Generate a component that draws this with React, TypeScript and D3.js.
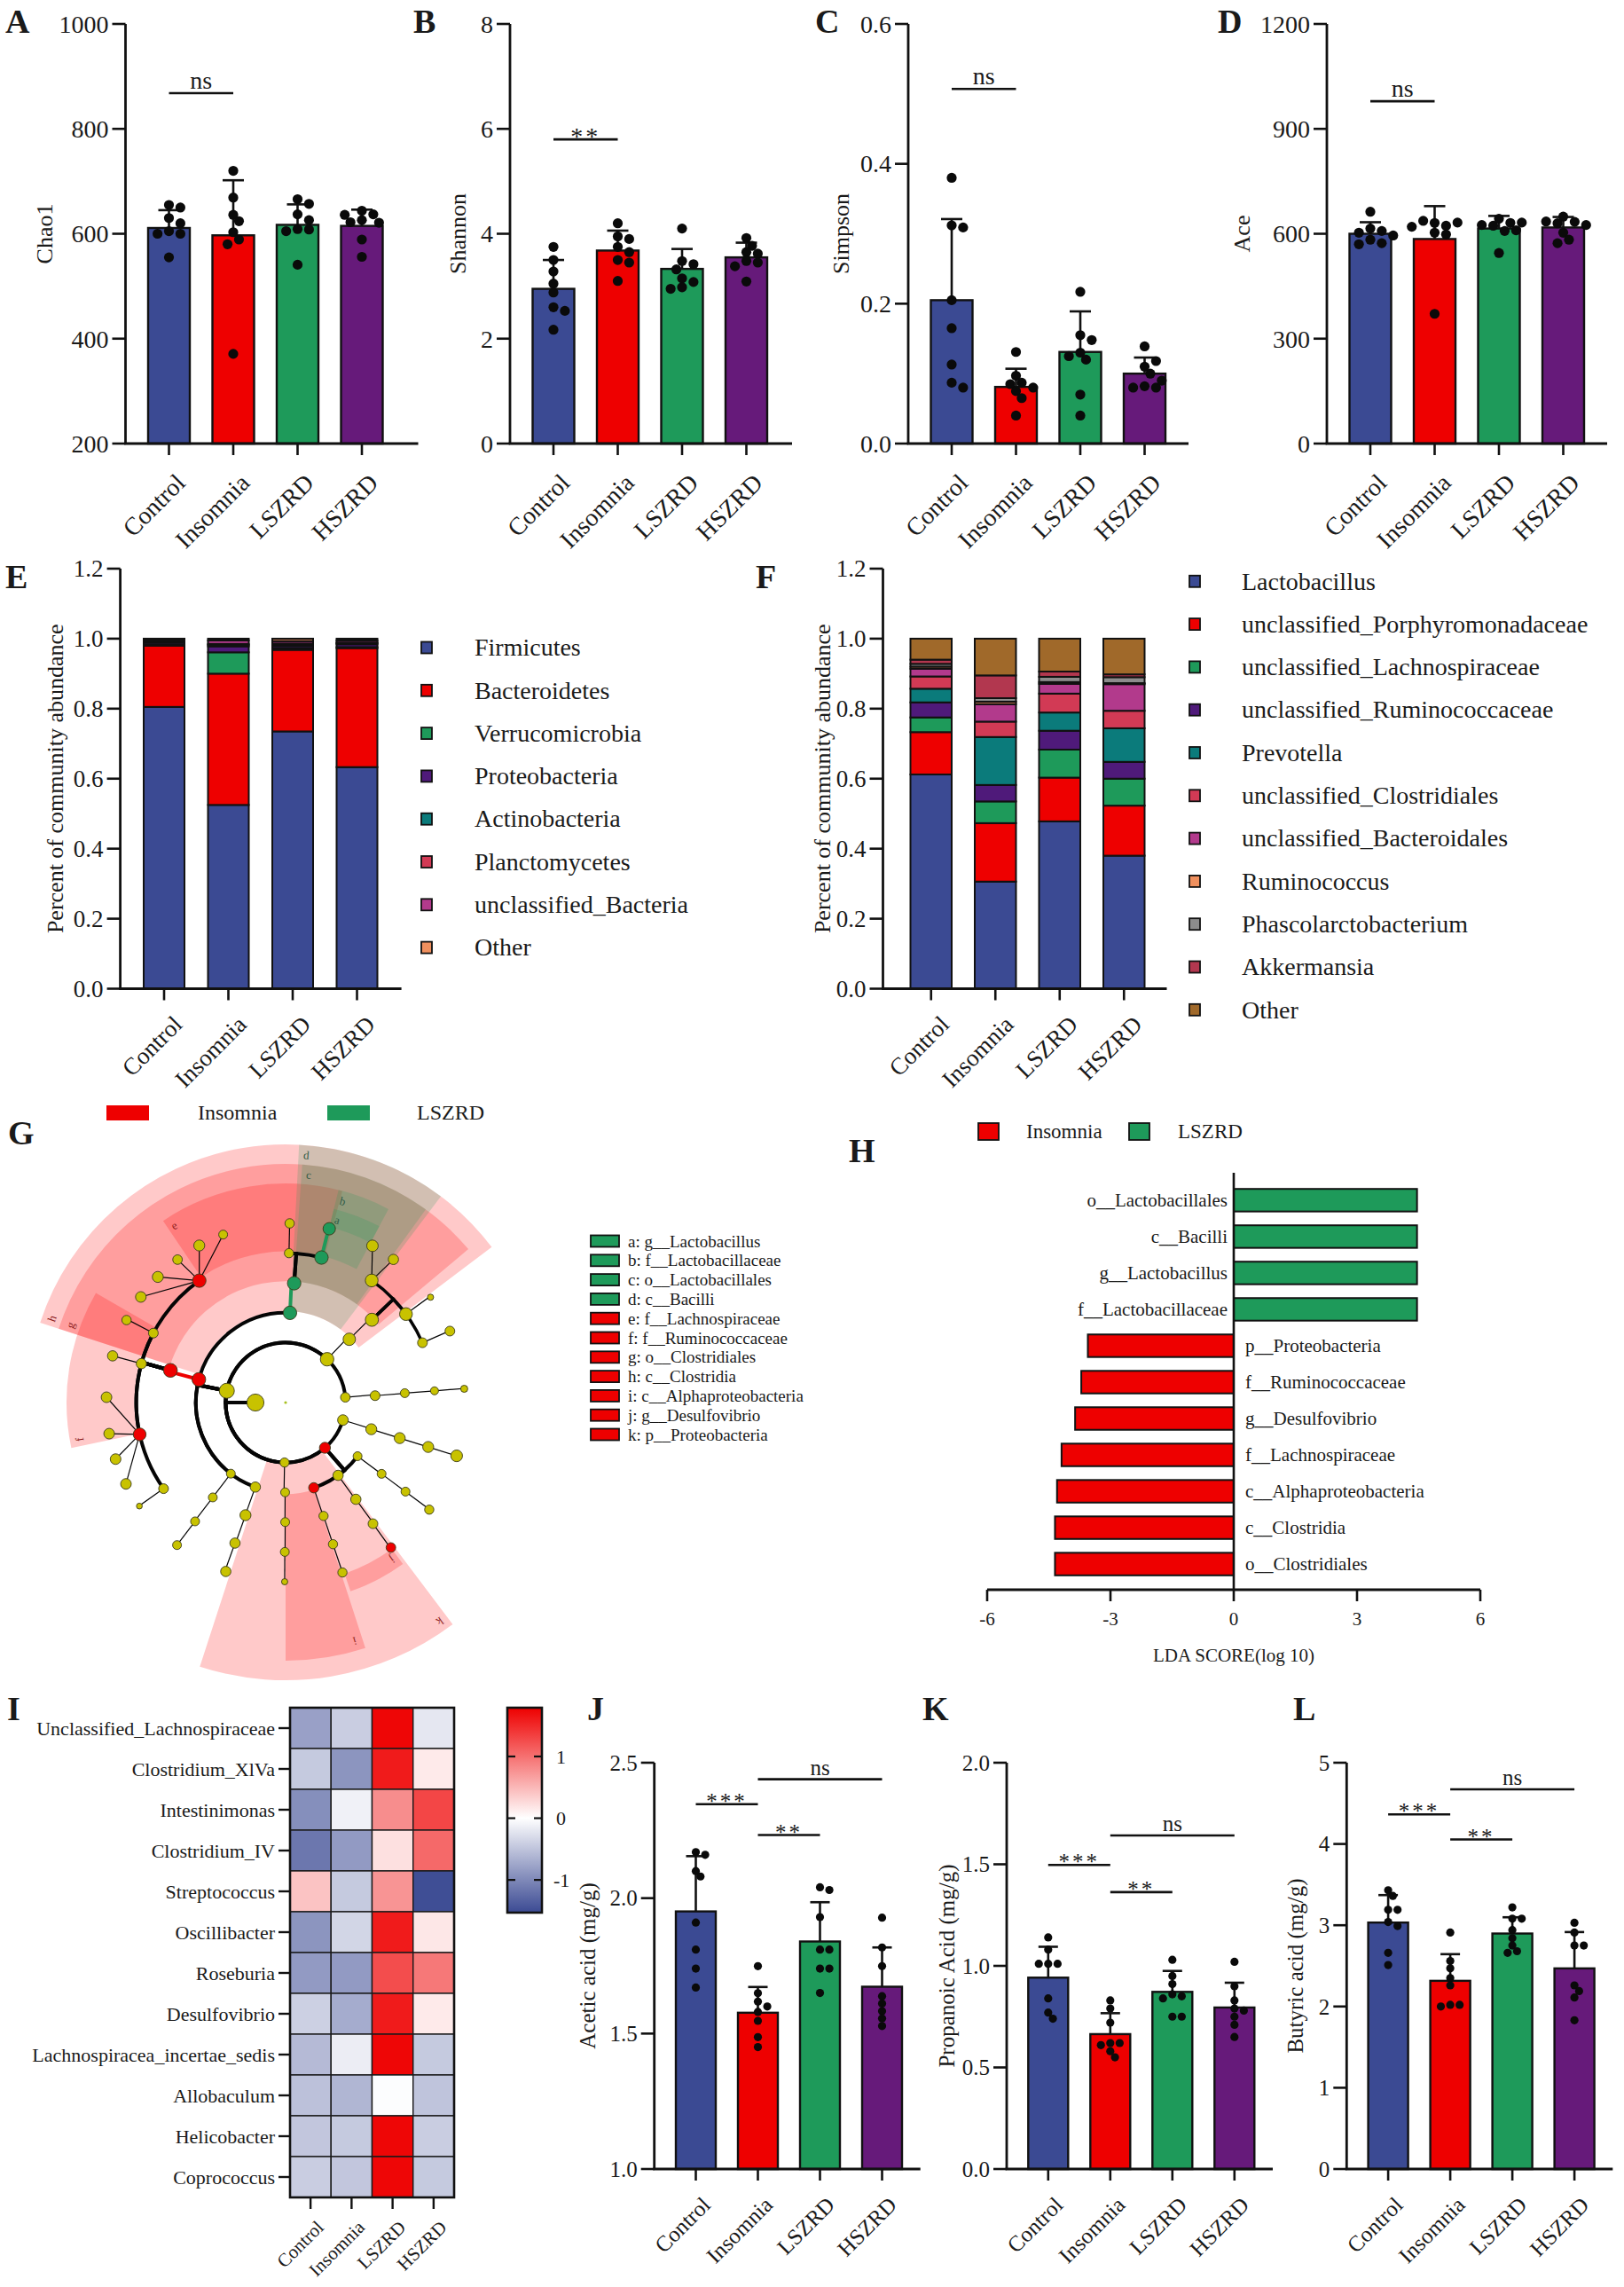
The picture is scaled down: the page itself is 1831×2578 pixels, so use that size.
import React from 'react';
import * as d3 from 'd3';

const W = 1831;
const H = 2578;
const SERIF = '"Liberation Serif", "Times New Roman", serif';

const GROUPS = ['Control', 'Insomnia', 'LSZRD', 'HSZRD'];
const GROUP_COLORS = ['#3b4a93', '#ee0000', '#1e9a5a', '#661a7a'];

// ---- A-D: alpha diversity ----
const chao1Mean = [611, 597, 617, 615];
const chao1Sd = [34, 105, 39, 31];
const chao1Pts = [
  [655, 650, 630, 620, 605, 600, 600, 555],
  [720, 669, 636, 624, 603, 589, 580, 371],
  [666, 657, 637, 626, 609, 608, 605, 541],
  [644, 637, 626, 622, 621, 589, 556, 636],
];
const shannonMean = [2.95, 3.68, 3.33, 3.55];
const shannonSd = [0.55, 0.38, 0.38, 0.28];
const shannonPts = [
  [3.75, 3.5, 3.28, 3.05, 2.88, 2.6, 2.53, 2.17],
  [4.2, 3.95, 3.9, 3.75, 3.65, 3.5, 3.45, 3.1],
  [4.1, 3.48, 3.42, 3.32, 3.15, 3.08, 2.98, 2.95],
  [3.92, 3.77, 3.65, 3.62, 3.48, 3.45, 3.38, 3.09],
];
const simpsonMean = [0.205, 0.081, 0.131, 0.1];
const simpsonSd = [0.116, 0.026, 0.058, 0.023];
const simpsonPts = [
  [0.38, 0.312, 0.309, 0.205, 0.165, 0.113, 0.087, 0.08],
  [0.131, 0.097, 0.087, 0.085, 0.08, 0.075, 0.065, 0.04],
  [0.217, 0.155, 0.148, 0.13, 0.12, 0.125, 0.07, 0.04],
  [0.139, 0.11, 0.1, 0.082, 0.08, 0.08, 0.09, 0.118],
];
const aceMean = [600, 585, 615, 618];
const aceSd = [33, 94, 36, 30];
const acePts = [
  [663, 615, 608, 603, 583, 573, 570, 595],
  [631, 623, 603, 598, 637, 632, 620, 371],
  [643, 631, 623, 608, 625, 632, 610, 545],
  [649, 634, 630, 635, 603, 583, 573, 625],
];

// ---- E: phylum composition ----
const phylumNames = ['Firmicutes', 'Bacteroidetes', 'Verrucomicrobia', 'Proteobacteria', 'Actinobacteria', 'Planctomycetes', 'unclassified_Bacteria', 'Other'];
const phylumColors = ['#3b4a93', '#ee0000', '#1e9a5a', '#4f1a7a', '#0b7b7b', '#d23a55', '#b23a8c', '#f0905e'];
const phylumValues = [
  [0.805, 0.525, 0.735, 0.633],
  [0.175, 0.375, 0.233, 0.34],
  [0.002, 0.061, 0.005, 0.003],
  [0.006, 0.017, 0.006, 0.008],
  [0.003, 0.004, 0.004, 0.003],
  [0.002, 0.003, 0.003, 0.002],
  [0.004, 0.01, 0.007, 0.006],
  [0.003, 0.005, 0.007, 0.005],
];

// ---- F: genus composition ----
const genusNames = ['Lactobacillus', 'unclassified_Porphyromonadaceae', 'unclassified_Lachnospiraceae', 'unclassified_Ruminococcaceae', 'Prevotella', 'unclassified_Clostridiales', 'unclassified_Bacteroidales', 'Ruminococcus', 'Phascolarctobacterium', 'Akkermansia', 'Other'];
const genusColors = ['#3b4a93', '#ee0000', '#1e9a5a', '#4f1a7a', '#0b7b7b', '#d23a55', '#b23a8c', '#f0905e', '#8c8c8c', '#b2374f', '#a0692a'];
const genusValues = [
  [0.612, 0.306, 0.478, 0.38],
  [0.121, 0.167, 0.125, 0.143],
  [0.042, 0.062, 0.08, 0.077],
  [0.043, 0.047, 0.054, 0.048],
  [0.039, 0.137, 0.052, 0.096],
  [0.035, 0.044, 0.054, 0.05],
  [0.022, 0.05, 0.028, 0.076],
  [0.006, 0.007, 0.005, 0.003],
  [0.008, 0.01, 0.015, 0.017],
  [0.012, 0.065, 0.015, 0.008],
  [0.06, 0.105, 0.094, 0.102],
];

// ---- G: LEfSe cladogram  [id, parent, level, angle(deg), size, group, linkWidth] ----
const CLADE: [string, string, number, number, number, number, number][] = [
  ['K', '', 0, 270, 9.6, 0, 0],
  ['P1', 'K', 1, 281.3, 8.5, 0, 4],
  ['P2', 'K', 1, 403.8, 7.6, 0, 4],
  ['P3', 'K', 1, 445, 5.4, 0, 4],
  ['P4', 'K', 1, 107, 6, 0, 4],
  ['P5', 'K', 1, 139, 6.2, 1, 4],
  ['P6', 'K', 1, 181, 5.2, 0, 4],
  ['C1', 'P1', 2, 199.7, 5.8, 0, 4],
  ['C1o', 'C1', 3, 199.6, 6.2, 0, 1.2],
  ['C1f', 'C1o', 4, 199.8, 5.8, 0, 1.2],
  ['C1g', 'C1f', 5, 199.5, 5.8, 0, 1.2],
  ['C2', 'P1', 2, 217.6, 5, 0, 4],
  ['C2o', 'C2', 3, 217.5, 5, 0, 1.2],
  ['C2f', 'C2o', 4, 217.3, 5, 0, 1.2],
  ['C2g', 'C2f', 5, 217.3, 5, 0, 1.2],
  ['Clos', 'P1', 2, 284.9, 7.7, 1, 4],
  ['Clo', 'Clos', 3, 285.6, 7.8, 1, 4],
  ['F1', 'Clo', 4, 234.8, 5.5, 0, 4],
  ['F1g', 'F1', 5, 234.7, 3.3, 0, 1.2],
  ['Rum', 'Clo', 4, 257.7, 7.2, 1, 4],
  ['Rg1', 'Rum', 5, 243, 6, 0, 1.2],
  ['Rg2', 'Rum', 5, 251.6, 6, 0, 1.2],
  ['Rg3', 'Rum', 5, 260, 6, 0, 1.2],
  ['Rg4', 'Rum', 5, 271.7, 6, 0, 1.2],
  ['F3', 'Clo', 4, 285.1, 5.8, 0, 4],
  ['F3g', 'F3', 5, 285.1, 5.8, 0, 1.2],
  ['F4', 'Clo', 4, 297.7, 5.5, 0, 4],
  ['F4g', 'F4', 5, 297.4, 5.3, 0, 1.2],
  ['Lach', 'Clo', 4, 324.7, 7.6, 1, 4],
  ['Lg1', 'Lach', 5, 306.1, 6, 0, 1.2],
  ['Lg2', 'Lach', 5, 314.5, 6.2, 0, 1.2],
  ['Lg3', 'Lach', 5, 322.9, 5.4, 0, 1.2],
  ['Lg4', 'Lach', 5, 331.2, 6.2, 0, 1.2],
  ['Lg5', 'Lach', 5, 339.6, 5, 0, 1.2],
  ['Bac', 'P1', 2, 362.8, 7.6, 2, 4],
  ['Lacto', 'Bac', 3, 364.1, 7.6, 2, 4],
  ['BF1', 'Lacto', 4, 361.3, 5.2, 0, 4],
  ['BF1g', 'BF1', 5, 361.3, 5.3, 0, 1.2],
  ['Lcae', 'Lacto', 4, 373.9, 7.6, 2, 4],
  ['Lbac', 'Lcae', 5, 374.1, 7, 2, 4],
  ['P2c', 'P2', 2, 405.2, 7, 0, 1.2],
  ['P2o', 'P2c', 3, 406.2, 7.4, 0, 1.2],
  ['P2fa', 'P2o', 4, 395.2, 7.2, 0, 3.5],
  ['P2fa1', 'P2fa', 5, 389, 6.5, 0, 1.2],
  ['P2fa2', 'P2fa', 5, 397, 5.8, 0, 1.2],
  ['P2fb', 'P2o', 4, 413.7, 7.2, 0, 3.5],
  ['P2fb1', 'P2fb', 5, 414, 3.5, 0, 1.2],
  ['P2fc', 'P2o', 4, 426.4, 5.5, 0, 3.5],
  ['P2fc1', 'P2fc', 5, 426.5, 5.5, 0, 1.2],
  ['P3c', 'P3', 2, 445.6, 5.5, 0, 1.2],
  ['P3o', 'P3c', 3, 445.5, 5, 0, 1.2],
  ['P3f', 'P3o', 4, 445.5, 4.5, 0, 1.2],
  ['P3g', 'P3f', 5, 445.6, 4, 0, 1.2],
  ['P4c', 'P4', 2, 107.3, 6.2, 0, 1.2],
  ['P4o', 'P4c', 3, 107.3, 6.2, 0, 1.2],
  ['P4f', 'P4o', 4, 107.3, 6.2, 0, 1.2],
  ['P4g', 'P4f', 5, 107.3, 6.6, 0, 1.2],
  ['P5a', 'P5', 2, 126.7, 5, 0, 4],
  ['P5ao', 'P5a', 3, 126.6, 5, 0, 1.2],
  ['P5af', 'P5ao', 4, 126.6, 5, 0, 1.2],
  ['P5ag', 'P5af', 5, 126.7, 5.2, 0, 1.2],
  ['P5d', 'P5', 2, 144.2, 5.8, 0, 4],
  ['P5do', 'P5d', 3, 144, 5.8, 0, 1.2],
  ['P5df', 'P5do', 4, 144.2, 5.5, 0, 1.2],
  ['Desu', 'P5df', 5, 144, 5.4, 1, 1.2],
  ['Alph', 'P5', 2, 161.7, 5.8, 1, 4],
  ['Alo', 'Alph', 3, 161.5, 5.2, 0, 1.2],
  ['Alf', 'Alo', 4, 161.5, 5.2, 0, 1.2],
  ['Alg', 'Alf', 5, 161.5, 5.2, 0, 1.2],
  ['P6c', 'P6', 2, 180.3, 5, 0, 1.2],
  ['P6o', 'P6c', 3, 180.2, 5, 0, 1.2],
  ['P6f', 'P6o', 4, 180.3, 5, 0, 1.2],
  ['P6g', 'P6f', 5, 180.3, 3.5, 0, 1.2],
];
// shaded clades: [label, startDeg, endDeg, level, group]
const CLADE_SHADES: [string, number, number, number, number][] = [
  ['k', 143, 198, 1, 1],
  ['h', 288, 413, 2, 1],
  ['i', 162, 180, 2, 1],
  ['g', 288, 410, 3, 1],
  ['e', 326, 375, 4, 1],
  ['f', 258, 300, 4, 1],
  ['j', 144, 161, 5, 1],
  ['d', 363, 397, 2, 2],
  ['c', 364, 396, 3, 2],
  ['b', 374, 388, 4, 2],
  ['a', 374, 388, 5, 2],
];
const CLADE_LEGEND: [string, string, number][] = [
  ['a', 'g__Lactobacillus', 2],
  ['b', 'f__Lactobacillaceae', 2],
  ['c', 'o__Lactobacillales', 2],
  ['d', 'c__Bacilli', 2],
  ['e', 'f__Lachnospiraceae', 1],
  ['f', 'f__Ruminococcaceae', 1],
  ['g', 'o__Clostridiales', 1],
  ['h', 'c__Clostridia', 1],
  ['i', 'c__Alphaproteobacteria', 1],
  ['j', 'g__Desulfovibrio', 1],
  ['k', 'p__Proteobacteria', 1],
];

// ---- H: LDA scores ----
const ldaTaxa = ['o__Lactobacillales', 'c__Bacilli', 'g__Lactobacillus', 'f__Lactobacillaceae', 'p__Proteobacteria', 'f__Ruminococcaceae', 'g__Desulfovibrio', 'f__Lachnospiraceae', 'c__Alphaproteobacteria', 'c__Clostridia', 'o__Clostridiales'];
const ldaScores = [4.46, 4.46, 4.46, 4.46, -3.55, -3.71, -3.86, -4.19, -4.3, -4.35, -4.35];
const ldaTicks = [-6, -3, 0, 3, 6];

// ---- I: heatmap ----
const heatRows = ['Unclassified_Lachnospiraceae', 'Clostridium_XlVa', 'Intestinimonas', 'Clostridium_IV', 'Streptococcus', 'Oscillibacter', 'Roseburia', 'Desulfovibrio', 'Lachnospiracea_incertae_sedis', 'Allobaculum', 'Helicobacter', 'Coprococcus'];
const heatValues = [
  [-0.8, -0.42, 1.75, -0.2],
  [-0.45, -0.9, 1.6, 0.15],
  [-0.95, -0.12, 0.8, 1.3],
  [-1.15, -0.85, 0.22, 1.05],
  [0.42, -0.45, 0.75, -1.5],
  [-0.9, -0.35, 1.6, 0.17],
  [-0.85, -0.85, 1.25, 0.95],
  [-0.4, -0.7, 1.6, 0.15],
  [-0.58, -0.15, 1.75, -0.45],
  [-0.52, -0.62, -0.02, -0.5],
  [-0.48, -0.45, 1.75, -0.42],
  [-0.42, -0.48, 1.75, -0.45],
];
const heatTicks = [1, 0, -1];

// ---- J-L: SCFAs ----
const aceticMean = [1.951, 1.577, 1.84, 1.673];
const aceticSd = [0.204, 0.095, 0.145, 0.145];
const aceticPts = [
  [2.17, 2.16, 2.1, 2.08, 1.91, 1.81, 1.74, 1.67],
  [1.749, 1.649, 1.618, 1.6, 1.58, 1.547, 1.487, 1.45],
  [2.04, 2.03, 1.93, 1.81, 1.81, 1.74, 1.74, 1.65],
  [1.928, 1.818, 1.749, 1.638, 1.611, 1.583, 1.556, 1.528],
];
const propMean = [0.942, 0.664, 0.872, 0.795];
const propSd = [0.152, 0.103, 0.103, 0.122];
const propPts = [
  [1.14, 1.08, 1.01, 1.01, 1.01, 0.84, 0.77, 0.74],
  [0.83, 0.79, 0.72, 0.62, 0.62, 0.61, 0.58, 0.55],
  [1.03, 0.95, 0.91, 0.86, 0.85, 0.84, 0.75, 0.75],
  [1.02, 0.9, 0.83, 0.79, 0.78, 0.75, 0.71, 0.65],
];
const butMean = [3.033, 2.316, 2.898, 2.469];
const butSd = [0.338, 0.328, 0.2, 0.447];
const butPts = [
  [3.43, 3.36, 3.19, 3.19, 3.04, 2.99, 2.66, 2.51],
  [2.91, 2.56, 2.47, 2.35, 2.26, 2.02, 2.02, 2.0],
  [3.22, 3.08, 3.08, 2.94, 2.84, 2.75, 2.68, 2.66],
  [3.03, 2.91, 2.75, 2.75, 2.26, 2.19, 2.11, 1.83],
];

function band(x0: number, step: number, bw: number) {
  const pad = (step - bw) / step;
  return d3.scaleBand<string>()
    .domain(GROUPS)
    .range([x0 - (step - bw) / 2, x0 - (step - bw) / 2 + step * GROUPS.length])
    .paddingInner(pad)
    .paddingOuter(pad / 2);
}

// simple deterministic beeswarm so overlapping points spread sideways
function swarm(vals: number[], y: any, r: number, cx: number) {
  const placed: [number, number][] = [];
  vals.forEach(v => {
    const py = y(v);
    for (let k = 0; k < 14; k++) {
      const dx = (k % 2 ? 1 : -1) * Math.ceil(k / 2) * r * 1.15;
      const px = cx + dx;
      if (placed.every(([qx, qy]) => Math.hypot(qx - px, qy - py) >= r * 1.7)) {
        placed.push([px, py]);
        return;
      }
    }
    placed.push([cx, py]);
  });
  return placed;
}

function XLabels({ x, yBot, font, dx, dy }: any) {
  return (
    <g>
      {GROUPS.map(g => {
        const cx = (x(g) as number) + x.bandwidth() / 2;
        return (
          <g key={g}>
            <line x1={cx} x2={cx} y1={yBot} y2={yBot + 13} stroke="#111" strokeWidth={2.6} />
            <text transform={`translate(${cx + dx},${yBot + dy}) rotate(-45)`} textAnchor="end" fontSize={font}>{g}</text>
          </g>
        );
      })}
    </g>
  );
}

function Bars({ c }: any) {
  const y = d3.scaleLinear().domain(c.domain).range([c.yBot, c.yTop]);
  const x = band(c.ax + c.off, c.step, c.bw);
  const cxOf = (i: number) => (x(GROUPS[i]) as number) + x.bandwidth() / 2;
  const mid = (c.yTop + c.yBot) / 2;
  const fmt = d3.format(c.fmt);
  return (
    <g fontFamily={SERIF} fill="#1a1a1a">
      {GROUPS.map((g, i) => {
        const top = y(c.mean[i]);
        const eTop = y(c.mean[i] + c.sd[i]);
        const cx = cxOf(i);
        const dots = swarm(c.pts[i], y, c.dotR, cx);
        return (
          <g key={g}>
            <rect x={x(g)} y={top} width={x.bandwidth()} height={c.yBot - top} fill={GROUP_COLORS[i]} stroke="#111" strokeWidth={2.4} />
            <line x1={cx} x2={cx} y1={top} y2={eTop} stroke="#111" strokeWidth={2.6} />
            <line x1={cx - c.cap} x2={cx + c.cap} y1={eTop} y2={eTop} stroke="#111" strokeWidth={2.6} />
            {dots.map(([px, py], k) => <circle key={k} cx={px} cy={py} r={c.dotR} fill="#0a0a0a" />)}
          </g>
        );
      })}
      <line x1={c.ax} x2={c.ax} y1={c.yTop} y2={c.yBot} stroke="#111" strokeWidth={2.8} />
      <line x1={c.ax - 1.4} x2={c.ax + c.xLen} y1={c.yBot} y2={c.yBot} stroke="#111" strokeWidth={2.8} />
      {c.ticks.map((t: number) => (
        <g key={t}>
          <line x1={c.ax - 15} x2={c.ax} y1={y(t)} y2={y(t)} stroke="#111" strokeWidth={2.6} />
          <text x={c.ax - 19} y={y(t)} dy="0.35em" textAnchor="end" fontSize={c.font}>{fmt(t)}</text>
        </g>
      ))}
      <XLabels x={x} yBot={c.yBot} font={c.font} dx={c.lx} dy={c.ly} />
      <text transform={`translate(${c.titleX},${mid}) rotate(-90)`} textAnchor="middle" dy="0.35em" fontSize={c.titleFont}>{c.title}</text>
      {c.sigs.map(([a, b, v, lab]: any, k: number) => {
        const yy = y(v);
        const x1 = cxOf(a), x2 = cxOf(b);
        const star = lab !== 'ns';
        return (
          <g key={k}>
            <line x1={x1} x2={x2} y1={yy} y2={yy} stroke="#111" strokeWidth={2.6} />
            <text x={(x1 + x2) / 2} y={star ? yy + c.font * 0.2 : yy - 5} textAnchor="middle" fontSize={c.font} letterSpacing={star ? 3 : 0}>{lab}</text>
          </g>
        );
      })}
    </g>
  );
}

function Stacked({ c }: any) {
  const y = d3.scaleLinear().domain([0, 1.2]).range([c.yBot, c.yTop]);
  const x = band(c.ax + c.off, c.step, c.bw);
  const rows = GROUPS.map((g, i) => {
    const o: any = { g };
    c.names.forEach((n: string, k: number) => { o[n] = c.values[k][i]; });
    return o;
  });
  const series = d3.stack<any>().keys(c.names)(rows);
  const ticks = [0, 0.2, 0.4, 0.6, 0.8, 1.0, 1.2];
  const mid = (c.yTop + c.yBot) / 2;
  return (
    <g fontFamily={SERIF} fill="#1a1a1a">
      {series.map((s, k) => (
        <g key={s.key}>
          {s.map((d, i) => (
            <rect key={i} x={x(GROUPS[i])} y={y(d[1])} width={x.bandwidth()} height={Math.max(0, y(d[0]) - y(d[1]))}
              fill={c.colors[k]} stroke="#111" strokeWidth={2} />
          ))}
        </g>
      ))}
      <line x1={c.ax} x2={c.ax} y1={c.yTop} y2={c.yBot} stroke="#111" strokeWidth={2.8} />
      <line x1={c.ax - 1.4} x2={c.ax + c.xLen} y1={c.yBot} y2={c.yBot} stroke="#111" strokeWidth={2.8} />
      {ticks.map(t => (
        <g key={t}>
          <line x1={c.ax - 15} x2={c.ax} y1={y(t)} y2={y(t)} stroke="#111" strokeWidth={2.6} />
          <text x={c.ax - 19} y={y(t)} dy="0.35em" textAnchor="end" fontSize={27}>{t.toFixed(1)}</text>
        </g>
      ))}
      <XLabels x={x} yBot={c.yBot} font={27} dx={22} dy={42} />
      <text transform={`translate(${c.titleX},${mid}) rotate(-90)`} textAnchor="middle" dy="0.35em" fontSize={26}>Percent of community abundance</text>
      {c.names.map((n: string, k: number) => {
        const yy = c.legY + k * 48.3;
        return (
          <g key={n}>
            <rect x={c.legX} y={yy - 6.5} width={12} height={13} fill={c.colors[k]} stroke="#111" strokeWidth={1.8} />
            <text x={c.legTextX} y={yy} dy="0.33em" fontSize={28}>{n}</text>
          </g>
        );
      })}
    </g>
  );
}

function Cladogram() {
  const cx = 322, cy = 1581;
  const rad = d3.scaleLinear().domain([0, 360]).range([0, 2 * Math.PI]);
  const rr = d3.scaleLinear().domain([0, 5]).range([34, 202]);
  const outerR = d3.scaleLinear().domain([1, 5]).range([313, 225]);
  const nodes = new Map(CLADE.map(([id, parent, level, angle, size, grp, w]) => [id, { id, parent, level, angle, size, grp, w }]));
  const kids = d3.group(CLADE, d => d[1]);
  const pt = (a: number, r: number): [number, number] => [cx + r * Math.sin(rad(a)), cy - r * Math.cos(rad(a))];
  const fillOf = (g: number) => (g === 1 ? '#ee0000' : g === 2 ? '#1e9a5a' : '#c8c200');
  const nKids = (id: string) => (kids.get(id) || []).length;
  const linkPath = (n: any) => {
    const p: any = nodes.get(n.parent);
    const path = d3.path();
    if (n.level === 5 && nKids(p.id) > 1) {
      const [x0, y0] = pt(p.angle, rr(p.level));
      const [x1, y1] = pt(n.angle, rr(n.level));
      path.moveTo(x0, y0);
      path.lineTo(x1, y1);
    } else {
      const r0 = rr(p.level), r1 = rr(n.level);
      const [x0, y0] = pt(p.angle, r0);
      const [x1, y1] = pt(p.angle, r1);
      path.moveTo(x0, y0);
      path.lineTo(x1, y1);
      path.arc(cx, cy, r1, rad(p.angle) - Math.PI / 2, rad(n.angle) - Math.PI / 2, n.angle < p.angle);
    }
    return path.toString();
  };
  const arcGen = d3.arc<any>();
  const all = Array.from(nodes.values());
  const links = all.filter(n => n.parent);
  const drawOrder = [...all].sort((a, b) => (a.grp ? 1 : 0) - (b.grp ? 1 : 0));
  return (
    <g fontFamily={SERIF}>
      {CLADE_SHADES.map(([lab, s, e, lev, grp]) => (
        <path key={lab} transform={`translate(${cx},${cy})`}
          d={arcGen({ innerRadius: rr(lev) + 2, outerRadius: outerR(lev), startAngle: rad(s), endAngle: rad(e) }) || ''}
          fill={grp === 1 ? '#ff0000' : '#1e9a5a'} fillOpacity={grp === 1 ? 0.21 : 0.2} />
      ))}
      {CLADE_SHADES.map(([lab, s, , lev, grp]) => {
        const a = s + 1.8;
        const [lx, ly] = pt(a, outerR(lev) - 11);
        return (
          <text key={lab} transform={`translate(${lx},${ly}) rotate(${a})`} textAnchor="middle" dy="0.35em" fontSize={13}
            fill={grp === 1 ? '#8b1a1a' : '#2f5a45'}>{lab}</text>
        );
      })}
      {links.map(n => {
        const p: any = nodes.get(n.parent);
        const col = n.grp && n.grp === p.grp && nKids(p.id) === 1 ? fillOf(n.grp) : '#050505';
        return <path key={n.id} d={linkPath(n)} fill="none" stroke={col} strokeWidth={n.w} />;
      })}
      <circle cx={cx} cy={cy} r={1.6} fill="#a8c020" />
      {drawOrder.map(n => {
        const [x, y] = pt(n.angle, rr(n.level));
        return <circle key={n.id} cx={x} cy={y} r={n.size} fill={fillOf(n.grp)} stroke="#3a3a1a" strokeWidth={0.9} />;
      })}
      {/* group legend */}
      <rect x={120} y={1246} width={48} height={17} fill="#ee0000" />
      <text x={223} y={1262} fontSize={24} fill="#1a1a1a">Insomnia</text>
      <rect x={369} y={1246} width={48} height={17} fill="#1e9a5a" />
      <text x={470} y={1262} fontSize={24} fill="#1a1a1a">LSZRD</text>
      {/* clade key */}
      {CLADE_LEGEND.map(([k, name, grp], i) => {
        const yy = 1399 + i * 21.8;
        return (
          <g key={k}>
            <rect x={666} y={yy - 6.5} width={32} height={13} fill={grp === 1 ? '#ee0000' : '#1e9a5a'} stroke="#111" strokeWidth={1.8} />
            <text x={708} y={yy} dy="0.35em" fontSize={19} fill="#1a1a1a">{`${k}: ${name}`}</text>
          </g>
        );
      })}
    </g>
  );
}

function Lda() {
  const x = d3.scaleLinear().domain([-6, 6]).range([1113, 1669]);
  const y = d3.scaleBand<string>().domain(ldaTaxa).range([1332, 1784]).paddingInner(0.38).paddingOuter(0.2);
  const x0 = x(0);
  return (
    <g fontFamily={SERIF} fill="#1a1a1a">
      <rect x={1103} y={1266} width={23} height={19} fill="#ee0000" stroke="#111" strokeWidth={1.8} />
      <text x={1157} y={1283} fontSize={23}>Insomnia</text>
      <rect x={1273} y={1266} width={23} height={19} fill="#1e9a5a" stroke="#111" strokeWidth={1.8} />
      <text x={1328} y={1283} fontSize={23}>LSZRD</text>
      {ldaTaxa.map((t, i) => {
        const v = ldaScores[i];
        const yy = y(t) as number;
        const pos = v > 0;
        return (
          <g key={t}>
            <rect x={Math.min(x(v), x0)} y={yy} width={Math.abs(x(v) - x0)} height={y.bandwidth()}
              fill={pos ? '#1e9a5a' : '#ee0000'} stroke="#111" strokeWidth={2} />
            <text x={pos ? x0 - 7 : x0 + 13} y={yy + y.bandwidth() / 2} dy="0.35em" textAnchor={pos ? 'end' : 'start'} fontSize={21}>{t}</text>
          </g>
        );
      })}
      <line x1={x0} x2={x0} y1={1322} y2={1792} stroke="#111" strokeWidth={2.6} />
      <line x1={x(-6)} x2={x(6)} y1={1792} y2={1792} stroke="#111" strokeWidth={2.8} />
      {ldaTicks.map(t => (
        <g key={t}>
          <line x1={x(t)} x2={x(t)} y1={1792} y2={1805} stroke="#111" strokeWidth={2.6} />
          <text x={x(t)} y={1832} textAnchor="middle" fontSize={21}>{t}</text>
        </g>
      ))}
      <text x={x0} y={1873} textAnchor="middle" fontSize={21}>LDA SCORE(log 10)</text>
    </g>
  );
}

function Heatmap() {
  const x = d3.scaleBand<string>().domain(GROUPS).range([327, 512]);
  const y = d3.scaleBand<string>().domain(heatRows).range([1925, 2477]);
  const color = d3.scaleLinear<string>().domain([-1.53, 0, 1.79]).range(['#3b4a93', '#ffffff', '#ee0000']).interpolate(d3.interpolateRgb);
  const cb = d3.scaleLinear().domain([-1.53, 1.79]).range([2156, 1925]);
  const cbX = 572, cbW = 39;
  return (
    <g fontFamily={SERIF} fill="#1a1a1a">
      <defs>
        <linearGradient id="cbGrad" x1="0" x2="0" y1="0" y2="1">
          <stop offset="0" stopColor={color(1.79)} />
          <stop offset={(1.79 / 3.32).toFixed(3)} stopColor={color(0)} />
          <stop offset="1" stopColor={color(-1.53)} />
        </linearGradient>
      </defs>
      {heatRows.map((r, i) => (
        <g key={r}>
          {GROUPS.map((g, j) => (
            <rect key={g} x={x(g)} y={y(r)} width={x.bandwidth()} height={y.bandwidth()} fill={color(heatValues[i][j])} stroke="#1a1a1a" strokeWidth={1.4} />
          ))}
          <line x1={314} x2={327} y1={(y(r) as number) + y.bandwidth() / 2} y2={(y(r) as number) + y.bandwidth() / 2} stroke="#111" strokeWidth={2.4} />
          <text x={310} y={(y(r) as number) + y.bandwidth() / 2} dy="0.35em" textAnchor="end" fontSize={22}>{r}</text>
        </g>
      ))}
      <rect x={327} y={1925} width={185} height={552} fill="none" stroke="#111" strokeWidth={2.6} />
      {GROUPS.map(g => {
        const cx = (x(g) as number) + x.bandwidth() / 2;
        return (
          <g key={g}>
            <line x1={cx} x2={cx} y1={2477} y2={2490} stroke="#111" strokeWidth={2.4} />
            <text transform={`translate(${cx + 16},${2512}) rotate(-45)`} textAnchor="end" fontSize={21}>{g}</text>
          </g>
        );
      })}
      <rect x={cbX} y={1925} width={cbW} height={231} fill="url(#cbGrad)" stroke="#111" strokeWidth={2.6} />
      {heatTicks.map(t => (
        <g key={t}>
          <line x1={cbX} x2={cbX + 9} y1={cb(t)} y2={cb(t)} stroke="#111" strokeWidth={2.2} />
          <line x1={cbX + cbW - 9} x2={cbX + cbW} y1={cb(t)} y2={cb(t)} stroke="#111" strokeWidth={2.2} />
          <text x={t < 0 ? 624 : 627} y={cb(t)} dy="0.35em" fontSize={22}>{t === -1 ? '-1' : t}</text>
        </g>
      ))}
    </g>
  );
}

const LETTERS: [string, number, number][] = [
  ['A', 6, 37], ['B', 466, 37], ['C', 919, 37], ['D', 1373, 37],
  ['E', 6, 663], ['F', 852, 663], ['G', 9, 1290], ['H', 957, 1310],
  ['I', 8, 1939], ['J', 662, 1939], ['K', 1040, 1939], ['L', 1458, 1939],
];

const topRow = { yTop: 27, yBot: 500, off: 25.5, step: 72.5, bw: 47, font: 28, titleFont: 26, dotR: 5.6, cap: 12, lx: 20, ly: 46 };
const bottomRow = { yTop: 1987, yBot: 2445, off: 24.3, step: 70, bw: 45, font: 25, titleFont: 25, dotR: 4.6, cap: 11, lx: 18, ly: 42, xLen: 300 };

const panelA = { ...topRow, ax: 141.5, xLen: 330, domain: [200, 1000], ticks: [200, 400, 600, 800, 1000], fmt: 'd', title: 'Chao1', titleX: 50, mean: chao1Mean, sd: chao1Sd, pts: chao1Pts, sigs: [[0, 1, 868, 'ns']] };
const panelB = { ...topRow, ax: 575, xLen: 318, domain: [0, 8], ticks: [0, 2, 4, 6, 8], fmt: 'd', title: 'Shannon', titleX: 516, mean: shannonMean, sd: shannonSd, pts: shannonPts, sigs: [[0, 1, 5.8, '**']] };
const panelC = { ...topRow, ax: 1024, xLen: 316, domain: [0, 0.6], ticks: [0, 0.2, 0.4, 0.6], fmt: '.1f', title: 'Simpson', titleX: 948, mean: simpsonMean, sd: simpsonSd, pts: simpsonPts, sigs: [[0, 1, 0.507, 'ns']] };
const panelD = { ...topRow, ax: 1496, xLen: 316, domain: [0, 1200], ticks: [0, 300, 600, 900, 1200], fmt: 'd', title: 'Ace', titleX: 1400, mean: aceMean, sd: aceSd, pts: acePts, sigs: [[0, 1, 979, 'ns']] };
const panelJ = { ...bottomRow, ax: 737.7, domain: [1.0, 2.5], ticks: [1.0, 1.5, 2.0, 2.5], fmt: '.1f', title: 'Acetic acid (mg/g)', titleX: 662, mean: aceticMean, sd: aceticSd, pts: aceticPts, sigs: [[0, 1, 2.347, '***'], [1, 3, 2.439, 'ns'], [1, 2, 2.233, '**']] };
const panelK = { ...bottomRow, ax: 1135, domain: [0, 2], ticks: [0, 0.5, 1.0, 1.5, 2.0], fmt: '.1f', title: 'Propanoic Acid (mg/g)', titleX: 1067, mean: propMean, sd: propSd, pts: propPts, sigs: [[0, 1, 1.497, '***'], [1, 3, 1.642, 'ns'], [1, 2, 1.363, '**']] };
const panelL = { ...bottomRow, ax: 1518.3, domain: [0, 5], ticks: [0, 1, 2, 3, 4, 5], fmt: 'd', title: 'Butyric acid (mg/g)', titleX: 1460, mean: butMean, sd: butSd, pts: butPts, sigs: [[0, 1, 4.364, '***'], [1, 3, 4.673, 'ns'], [1, 2, 4.055, '**']] };

const panelE = { ax: 135.6, yTop: 641, yBot: 1114.5, off: 26.4, step: 72.5, bw: 46, xLen: 317, titleX: 62, names: phylumNames, colors: phylumColors, values: phylumValues, legX: 475, legTextX: 535, legY: 730 };
const panelF = { ax: 995.5, yTop: 641, yBot: 1114.5, off: 31, step: 72.5, bw: 46.5, xLen: 320, titleX: 927, names: genusNames, colors: genusColors, values: genusValues, legX: 1341, legTextX: 1400, legY: 655.3 };

export default function App() {
  return (
    <svg width={W} height={H} viewBox={`0 0 ${W} ${H}`} style={{ position: 'absolute', left: 0, top: 0, background: '#fff' }}>
      <rect width={W} height={H} fill="#fff" />
      <Bars c={panelA} />
      <Bars c={panelB} />
      <Bars c={panelC} />
      <Bars c={panelD} />
      <Stacked c={panelE} />
      <Stacked c={panelF} />
      <Cladogram />
      <Lda />
      <Heatmap />
      <Bars c={panelJ} />
      <Bars c={panelK} />
      <Bars c={panelL} />
      {LETTERS.map(([l, x, y]) => (
        <text key={l} x={x} y={y} fontFamily={SERIF} fontWeight="bold" fontSize={38} fill="#1a1a1a">{l}</text>
      ))}
    </svg>
  );
}
